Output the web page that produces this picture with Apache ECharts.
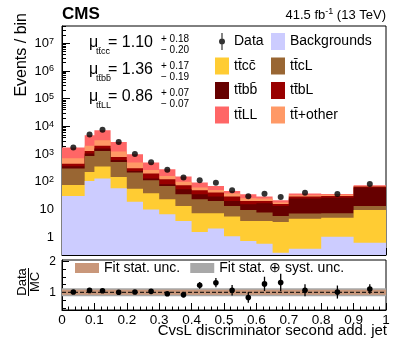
<!DOCTYPE html>
<html><head><meta charset="utf-8">
<script src="https://cdn.jsdelivr.net/npm/echarts@6/dist/echarts.min.js"></script>
<style>html,body{margin:0;padding:0;background:#fff}#c{width:407px;height:344px}</style>
</head><body><div id="c"></div>
<script>
// ---------------- data ----------------
const binEdges = [0, 0.07, 0.1, 0.15, 0.2, 0.25, 0.3, 0.35, 0.4, 0.45, 0.5, 0.55, 0.6, 0.65, 0.7, 0.8, 0.9, 1.0];
const backgrounds = [31, 108, 132, 59, 19, 10, 6.8, 3.9, 1.55, 2.06, 1.1, 0.74, 0.59, 0.28, 0.39, 1.05, 0.64];
const ttcc        = [46, 120, 224, 91, 38, 29, 16.7, 9.6, 5.85, 5.34, 4.5, 3.16, 3.31, 3.32, 4.31, 4.05, 9.06];
const ttcL        = [225, 637, 954, 375, 160, 75, 47.5, 22.5, 16.1, 13, 7.9, 5.8, 3.9, 2.3, 2.5, 2.3, 3.8];
const ttbb        = [63, 185, 280, 90, 30, 18, 11, 18, 12.5, 9.1, 6.9, 5.8, 9.2, 7.6, 17.8, 19.6, 48.5];
const ttbL        = [85, 260, 400, 175, 63, 68, 42, 21, 14, 11.5, 9.1, 4.9, 3.4, 2.5, 4.5, 4, 6];
const ttOther     = [260, 680, 1180, 450, 190, 70, 40, 27, 12, 10, 8.5, 5.1, 4.6, 2, 3.5, 3, 3];
const ttLL        = [1020, 2810, 4130, 1520, 500, 230, 121, 53, 32, 20, 9, 10.5, 4.5, 3.7, 5, 2.5, 4];
const dataCounts  = [1750, 5090, 7670, 2760, 1010, 515, 271, 143, 115, 93, 50, 30, 37.5, 28.5, 40.5, 36.8, 83];
const ratioErr    = [0.02, 0.015, 0.012, 0.02, 0.03, 0.045, 0.06, 0.09, 0.11, 0.15, 0.17, 0.17, 0.23, 0.28, 0.19, 0.21, 0.15];
const fitStatUnc  = [0.08, 0.08, 0.08, 0.08, 0.08, 0.08, 0.08, 0.08, 0.08, 0.08, 0.08, 0.08, 0.08, 0.08, 0.08, 0.08, 0.08];
const fitTotUnc   = [0.13, 0.13, 0.13, 0.13, 0.13, 0.13, 0.13, 0.13, 0.13, 0.13, 0.13, 0.13, 0.13, 0.13, 0.13, 0.13, 0.13];

const layerNames  = ['Backgrounds', 'tt\u0304cc\u0304', 'tt\u0304cL', 'tt\u0304bb\u0304', 'tt\u0304bL', 'tt\u0304+other', 'tt\u0304LL'];
const muNames     = ['tt\u0304cc\u0304', 'tt\u0304bb\u0304', 'tt\u0304LL'];
const muValues    = ['1.10', '1.36', '0.86'];
const muUp        = ['+ 0.18', '+ 0.17', '+ 0.07'];
const muDown      = ['\u2212 0.20', '\u2212 0.19', '\u2212 0.07'];
const yMajorTicks = [1, 10, 100, 1000, 10000, 100000, 1000000, 10000000];
const ratioLabels = [1, 2];
const ratioMinor  = [0.5, 0.75, 1.25, 1.5, 1.75];

// ---------------- styling ----------------
const FONT = '"Liberation Sans", Arial, sans-serif';
const layerColors = ['#ccccff', '#ffcc33', '#996633', '#660000', '#990000', '#ff9966', '#ff6666'];
const layerVals = [backgrounds, ttcc, ttcL, ttbb, ttbL, ttOther, ttLL];
const Y_MIN = 0.23, Y_MAX = 4.2e7, R_MIN = 0.43, R_MAX = 2.04;

const nBins = binEdges.length - 1;
const binCenters = binEdges.slice(0, -1).map((e, i) => (e + binEdges[i + 1]) / 2);
const cums = [];
let run = new Array(nBins).fill(0);
layerVals.forEach(v => { run = run.map((r, i) => r + v[i]); cums.push(run.slice()); });
const totalMC = cums[cums.length - 1];
const ratio = dataCounts.map((d, i) => d / totalMC[i]);

const yMinor = [];
for (let d = -1; d <= 7; d++) for (let k = 2; k <= 9; k++) { const v = k * Math.pow(10, d); if (v > Y_MIN && v < Y_MAX) yMinor.push(v); }

function stepPoly(api, lo, hi) {
  const pts = [];
  for (let i = 0; i < nBins; i++) { pts.push(api.coord([binEdges[i], hi[i]])); pts.push(api.coord([binEdges[i + 1], hi[i]])); }
  for (let i = nBins - 1; i >= 0; i--) { pts.push(api.coord([binEdges[i + 1], lo[i]])); pts.push(api.coord([binEdges[i], lo[i]])); }
  return pts;
}

const series = [];
// stack: draw the top (cumulative) layers first
for (let L = layerVals.length - 1; L >= 0; L--) {
  const hi = cums[L];
  const lo = new Array(nBins).fill(Y_MIN);
  series.push({
    type: 'custom', name: layerNames[L], xAxisIndex: 0, yAxisIndex: 0,
    itemStyle: { color: layerColors[L] }, silent: true,
    data: [[binCenters[0], hi[0]]],
    renderItem: (params, api) => ({ type: 'polygon', shape: { points: stepPoly(api, lo, hi) }, style: { fill: layerColors[L], stroke: null } })
  });
}
series.push({
  type: 'scatter', name: 'Data', xAxisIndex: 0, yAxisIndex: 0, symbol: 'circle', symbolSize: 6,
  itemStyle: { color: '#000' }, data: binCenters.map((x, i) => [x, dataCounts[i]]), z: 5
});
// ratio bands
const bandDefs = [['Fit stat. \u2295 syst. unc.', fitTotUnc, '#a8a8a8'], ['Fit stat. unc.', fitStatUnc, '#c9977a']];
bandDefs.forEach(([nm, unc, col]) => {
  const lo = unc.map(u => 1 - u), hi = unc.map(u => 1 + u);
  series.push({
    type: 'custom', name: nm, xAxisIndex: 1, yAxisIndex: 2, itemStyle: { color: col }, silent: true,
    data: [[0.5, 1]],
    renderItem: (params, api) => ({ type: 'polygon', shape: { points: stepPoly(api, lo, hi) }, style: { fill: col, stroke: null } })
  });
});
series.push({
  type: 'line', xAxisIndex: 1, yAxisIndex: 2, symbol: 'none', silent: true, z: 4,
  data: [[0, 1], [1, 1]], lineStyle: { color: '#000', width: 1, type: [4, 2] }
});
series.push({
  type: 'custom', name: 'ratio', xAxisIndex: 1, yAxisIndex: 2, z: 5,
  data: binCenters.map((x, i) => [x, ratio[i], ratioErr[i]]),
  renderItem: (params, api) => {
    const x = api.value(0), r = api.value(1), e = api.value(2);
    const pT = api.coord([x, r + e]), pB = api.coord([x, r - e]), p = api.coord([x, r]);
    return { type: 'group', children: [
      { type: 'line', shape: { x1: pT[0], y1: pT[1], x2: pB[0], y2: pB[1] }, style: { stroke: '#000', lineWidth: 1.3 } },
      { type: 'circle', shape: { cx: p[0], cy: p[1], r: 2.8 }, style: { fill: '#000' } }
    ] };
  }
});

const xAxisBase = {
  type: 'value', min: 0, max: 1, interval: 0.1,
  axisLine: { lineStyle: { color: '#000', width: 1 } },
  axisTick: { inside: true, length: 7, lineStyle: { color: '#000' } },
  minorTick: { show: true, splitNumber: 5, length: 3.5, lineStyle: { color: '#000' } },
  splitLine: { show: false }
};
const supRich = {
  b: { fontSize: 13, fontFamily: FONT, color: '#000', lineHeight: 13, padding: [4, 0, 4, 0] },
  s: { fontSize: 9, fontFamily: FONT, color: '#000', lineHeight: 9, verticalAlign: 'top' }
};

const dataIcon = 'path://M6.4,0H7.6V17H6.4Z M10,8.5A3,3,0,1,1,4,8.5A3,3,0,1,1,10,8.5Z';
const legendBase = {
  orient: 'vertical', padding: 0, itemWidth: 14, itemHeight: 17, itemGap: 7.5, icon: 'rect',
  selectedMode: false, textStyle: { fontSize: 14, fontFamily: FONT, color: '#000' }
};

const graphics = [
  { type: 'text', x: 62, y: 14, style: { text: 'CMS', font: 'bold 17px ' + FONT, fill: '#000', verticalAlign: 'middle' } },
  { type: 'text', x: 386, y: 14, style: { text: '{a|41.5 fb}{s|-1}{a| (13 TeV)}', align: 'right', verticalAlign: 'middle',
      rich: { a: { fontSize: 13, fontFamily: FONT, fill: '#000', lineHeight: 13, padding: [3, 0, 0, 0] },
              s: { fontSize: 9, fontFamily: FONT, fill: '#000', lineHeight: 9, verticalAlign: 'top' } } } },
  { type: 'text', x: 22, y: 13, rotation: Math.PI / 2, style: { text: 'Events / bin', font: '16px ' + FONT, fill: '#000', align: 'right', verticalAlign: 'middle' } },
  { type: 'text', x: 387, y: 331, style: { text: 'CvsL discriminator second add. jet', font: '15px ' + FONT, fill: '#000', align: 'right', verticalAlign: 'middle' } },
  { type: 'text', x: 22, y: 282, rotation: Math.PI / 2, style: { text: 'Data', font: '13px ' + FONT, fill: '#000', align: 'center', verticalAlign: 'middle' } },
  { type: 'text', x: 35, y: 282, rotation: Math.PI / 2, style: { text: 'MC', font: '13px ' + FONT, fill: '#000', align: 'center', verticalAlign: 'middle' } },
  { type: 'line', shape: { x1: 28.5, y1: 268, x2: 28.5, y2: 296 }, style: { stroke: '#000', lineWidth: 1 } }
];
const muRowY = [43, 70, 97];
muNames.forEach((nm, i) => {
  const y = muRowY[i];
  graphics.push({ type: 'text', x: 89, y: y, style: { text: '\u03bc', font: '16px ' + FONT, fill: '#000', verticalAlign: 'middle' } });
  graphics.push({ type: 'text', x: 96, y: y + 9, style: { text: nm, font: '9px ' + FONT, fill: '#000', verticalAlign: 'middle' } });
  graphics.push({ type: 'text', x: 108, y: y, style: { text: '= ' + muValues[i], font: '16px ' + FONT, fill: '#000', verticalAlign: 'middle' } });
  graphics.push({ type: 'text', x: 161, y: y - 4, style: { text: muUp[i], font: '10px ' + FONT, fill: '#000', verticalAlign: 'middle' } });
  graphics.push({ type: 'text', x: 161, y: y + 7, style: { text: muDown[i], font: '10px ' + FONT, fill: '#000', verticalAlign: 'middle' } });
});

const option = {
  animation: false,
  backgroundColor: '#fff',
  grid: [
    { left: 62, top: 26, width: 324, height: 229, show: true, borderColor: '#000', borderWidth: 1, backgroundColor: 'transparent' },
    { left: 62, top: 260, width: 324, height: 50, show: true, borderColor: '#000', borderWidth: 1, backgroundColor: 'transparent' }
  ],
  xAxis: [
    Object.assign({}, xAxisBase, { gridIndex: 0, axisLabel: { show: false } }),
    Object.assign({}, xAxisBase, { gridIndex: 1, axisLabel: { show: true, margin: 3, fontSize: 13.5, fontFamily: FONT, color: '#000' } })
  ],
  yAxis: [
    { type: 'log', logBase: 10, gridIndex: 0, position: 'left', min: Y_MIN, max: Y_MAX,
      axisLine: { lineStyle: { color: '#000' } }, splitLine: { show: false },
      axisTick: { inside: true, length: 8, customValues: yMajorTicks, lineStyle: { color: '#000' } },
      axisLabel: { customValues: yMajorTicks, margin: 8, fontSize: 13, fontFamily: FONT, color: '#000', rich: supRich,
        formatter: v => v < 50 ? String(Math.round(v)) : '{b|10}{s|' + Math.round(Math.log10(v)) + '}' } },
    { type: 'log', logBase: 10, gridIndex: 0, position: 'left', offset: 0, min: Y_MIN, max: Y_MAX,
      axisLine: { show: false }, splitLine: { show: false }, axisLabel: { show: false },
      axisTick: { inside: true, length: 4, customValues: yMinor, lineStyle: { color: '#000' } } },
    { type: 'value', gridIndex: 1, position: 'left', min: R_MIN, max: R_MAX,
      axisLine: { lineStyle: { color: '#000' } }, splitLine: { show: false },
      axisTick: { inside: true, length: 7, customValues: ratioLabels, lineStyle: { color: '#000' } },
      axisLabel: { customValues: ratioLabels, margin: 6, fontSize: 12, fontFamily: FONT, color: '#000' } },
    { type: 'value', gridIndex: 1, position: 'left', offset: 0, min: R_MIN, max: R_MAX,
      axisLine: { show: false }, splitLine: { show: false }, axisLabel: { show: false },
      axisTick: { inside: true, length: 4, customValues: ratioMinor, lineStyle: { color: '#000' } } }
  ],
  legend: [
    Object.assign({}, legendBase, { left: 215, top: 33, data: [{ name: 'Data', icon: dataIcon }, layerNames[1], layerNames[3], layerNames[6]] }),
    Object.assign({}, legendBase, { left: 271, top: 33, data: [layerNames[0], layerNames[2], layerNames[4], layerNames[5]] }),
    Object.assign({}, legendBase, { orient: 'horizontal', left: 75, top: 261, itemWidth: 24, itemHeight: 10, itemGap: 10,
      data: ['Fit stat. unc.', 'Fit stat. \u2295 syst. unc.'] })
  ],
  graphic: graphics,
  series: series
};
const chart = echarts.init(document.getElementById('c'), null, { renderer: 'canvas', width: 407, height: 344 });
chart.setOption(option);
</script></body></html>
